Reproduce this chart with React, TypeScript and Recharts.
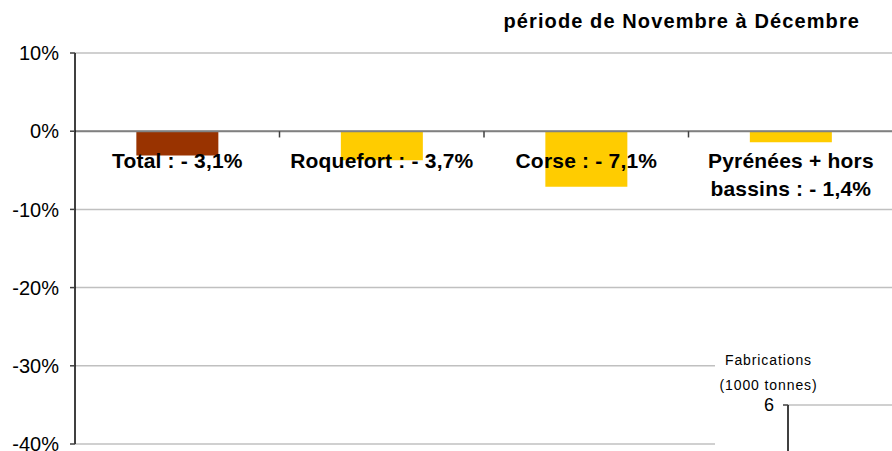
import React from "react";
import {
  ComposedChart,
  Bar,
  Cell,
  XAxis,
  YAxis,
  CartesianGrid,
  ReferenceLine,
  LabelList,
  Label,
} from "recharts";

// ---- data ----
const categories = ["Total", "Roquefort", "Corse", "Pyrénées + hors\nbassins"];
const variation = [-3.1, -3.7, -7.1, -1.4];
const yTicks = [10, 0, -10, -20, -30, -40];
const titleText = "période de Novembre à Décembre";
const insetTitle = ["Fabrications", "(1000 tonnes)"];
const insetTicks = [6];

const barColors = ["#993300", "#FFCC00", "#FFCC00", "#FFCC00"];
const FONT = "'Liberation Sans', Arial, Helvetica, sans-serif";

const data = categories.map((c, i) => ({ name: c, value: variation[i] }));
const boundaries = categories.slice(1);

const fmt = (v: number) =>
  (v < 0 ? "- " : "") + Math.abs(v).toFixed(1).replace(".", ",") + "%";

const BarLabel = (props: any) => {
  const { x, y, width, height, index } = props;
  const top = Math.min(Number(y), Number(y) + Number(height));
  const cx = Number(x) + Number(width) / 2;
  const text = `${categories[index]} : ${fmt(variation[index])}`;
  const lines = text.split("\n");
  return (
    <g>
      {lines.map((l, i) => (
        <text
          key={i}
          x={cx}
          y={top + 37 + i * 28}
          textAnchor="middle"
          fontFamily={FONT}
          fontWeight="bold"
          fontSize={21}
          letterSpacing={0.2}
          fill="#000"
        >
          {l}
        </text>
      ))}
    </g>
  );
};

const InsetTitle = (props: any) => {
  const vb = props.viewBox || {};
  const cx = vb.x + vb.width - 19.5;
  return (
    <g>
      {insetTitle.map((t, i) => (
        <text
          key={i}
          x={cx}
          y={vb.y - 40 + i * 25}
          textAnchor="middle"
          fontFamily={FONT}
          fontSize={14}
          letterSpacing={0.9}
          fill="#000"
        >
          {t}
        </text>
      ))}
    </g>
  );
};

export default function App() {
  return (
    <div
      style={{
        position: "absolute",
        left: 0,
        top: 0,
        width: 892,
        height: 451,
        overflow: "hidden",
        background: "#fff",
      }}
    >
      <div style={{ position: "absolute", left: 0, top: 0 }}>
        <ComposedChart
          width={900}
          height={451}
          data={data}
          margin={{ top: 53, right: 7, bottom: 7, left: 0 }}
          barCategoryGap="30%"
        >
          <CartesianGrid vertical={false} stroke="#c0c0c0" strokeWidth={1.5} />
          <XAxis dataKey="name" hide />
          <YAxis
            width={75}
            domain={[-40, 10]}
            ticks={yTicks}
            interval={0}
            allowDataOverflow
            tickFormatter={(v: number) => `${v}%`}
            tick={{ fontFamily: FONT, fontSize: 20, fill: "#000" }}
            tickSize={5}
            tickMargin={11}
            axisLine={{ stroke: "#000", strokeWidth: 1.5 }}
            tickLine={{ stroke: "#404040", strokeWidth: 1.5 }}
          />
          <Bar dataKey="value" isAnimationActive={false}>
            {data.map((d, i) => (
              <Cell key={i} fill={barColors[i]} />
            ))}
            <LabelList dataKey="value" content={<BarLabel />} />
          </Bar>
          <ReferenceLine y={0} stroke="#808080" strokeWidth={2} />
          {boundaries.map((b) => (
            <ReferenceLine
              key={b}
              position="start"
              segment={[
                { x: b, y: 0 },
                { x: b, y: -0.8 },
              ]}
              stroke="#404040"
              strokeWidth={1.5}
            />
          ))}
        </ComposedChart>
      </div>
      <svg
        width={892}
        height={451}
        style={{ position: "absolute", left: 0, top: 0, pointerEvents: "none" }}
      >
        <text
          x={860}
          y={28}
          textAnchor="end"
          fontFamily={FONT}
          fontWeight="bold"
          fontSize={20}
          letterSpacing={1.1}
          fill="#000"
        >
          {titleText}
        </text>
      </svg>
      <div
        style={{
          position: "absolute",
          left: 715,
          top: 345,
          width: 200,
          height: 300,
          background: "#fff",
        }}
      >
        <ComposedChart
          width={200}
          height={300}
          data={[{ name: "", v: 0 }]}
          margin={{ top: 60, right: 0, bottom: 0, left: 0 }}
        >
          <CartesianGrid vertical={false} stroke="#c0c0c0" strokeWidth={1.5} />
          <XAxis dataKey="name" hide />
          <YAxis
            width={73}
            type="number"
            domain={[0, 6]}
            ticks={insetTicks}
            interval={0}
            allowDataOverflow
            tick={{ fontFamily: FONT, fontSize: 18, fill: "#000" }}
            tickSize={5}
            tickMargin={9}
            axisLine={{ stroke: "#000", strokeWidth: 1.5 }}
            tickLine={{ stroke: "#404040", strokeWidth: 1.5 }}
          >
            <Label content={<InsetTitle />} />
          </YAxis>
        </ComposedChart>
      </div>
    </div>
  );
}
